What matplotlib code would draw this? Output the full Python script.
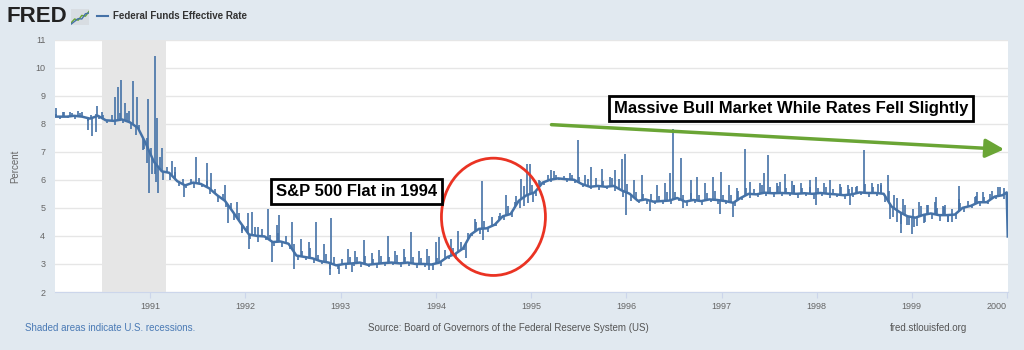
import numpy as np
import pandas as pd
import matplotlib
matplotlib.use('Agg')
import matplotlib.pyplot as plt
import matplotlib.dates as mdates
from matplotlib.patches import Ellipse

plt.rcParams['font.family'] = ['Liberation Sans', 'DejaVu Sans']

# Monthly level of the federal funds rate (mid-month)
rate_1990 = [8.25, 8.25, 8.28, 8.25, 8.18, 8.28, 8.12, 8.10, 8.15, 8.05, 7.85, 7.30]
rate_1991 = [6.65, 6.30, 6.25, 5.95, 5.80, 5.90, 5.85, 5.70, 5.45, 5.25, 4.85, 4.45]
rate_1992 = [4.05, 4.00, 3.98, 3.78, 3.80, 3.72, 3.30, 3.25, 3.20, 3.10, 3.05, 2.95]
rate_1993 = [3.00, 3.02, 3.05, 2.97, 3.00, 3.03, 3.05, 3.02, 3.05, 3.00, 3.00, 2.98]
rate_1994 = [3.05, 3.25, 3.35, 3.55, 4.05, 4.25, 4.27, 4.40, 4.70, 4.78, 5.25, 5.45]
rate_1995 = [5.55, 5.90, 6.00, 6.05, 6.02, 6.00, 5.85, 5.75, 5.78, 5.75, 5.78, 5.62]
rate_1996 = [5.50, 5.25, 5.30, 5.22, 5.24, 5.26, 5.35, 5.22, 5.28, 5.24, 5.30, 5.28]
rate_1997 = [5.24, 5.18, 5.35, 5.50, 5.48, 5.54, 5.52, 5.53, 5.52, 5.50, 5.52, 5.50]
rate_1998 = [5.53, 5.50, 5.48, 5.45, 5.48, 5.55, 5.53, 5.53, 5.50, 5.05, 4.85, 4.70]
rate_1999 = [4.65, 4.75, 4.80, 4.74, 4.74, 4.76, 5.00, 5.07, 5.20, 5.20, 5.40, 5.45]

# first and last days of the series
edge_dates = ['1990-01-02', '1999-12-31', '2000-01-04']
edge_vals = [8.25, 5.55, 3.98]

# small day-to-day wiggle around the monthly level (two readings a month)
wiggle_1990 = [0.10, -0.10, 0.15, -0.05, 0.10, -0.10, 0.12, 0.05, -0.10, 0.10, 0.08, -0.10,
               0.15, -0.10, 0.20, -0.15, 0.25, -0.10, 0.30, -0.20, -0.30, 0.20, -0.40, 0.30]
wiggle_1991 = [0.30, -0.40, 0.40, -0.30, 0.20, -0.20, 0.25, -0.15, 0.20, -0.10, 0.15, -0.20,
               0.20, -0.10, 0.20, -0.15, 0.15, -0.20, 0.20, -0.15, 0.20, -0.20, 0.25, -0.20]
wiggle_1992 = [0.20, -0.15, 0.30, -0.20, 0.25, -0.10, 0.20, -0.15, 0.30, -0.20, 0.25, -0.10,
               0.30, -0.15, 0.20, -0.10, 0.35, -0.15, 0.20, -0.10, 0.30, -0.20, 0.25, -0.15]
wiggle_1993 = [0.20, -0.20, 0.25, -0.10, 0.20, -0.15, 0.30, -0.10, 0.20, -0.15, 0.25, -0.10,
               0.20, -0.10, 0.30, -0.15, 0.20, -0.10, 0.25, -0.15, 0.20, -0.10, 0.30, -0.20]
wiggle_1994 = [0.20, -0.15, 0.30, -0.10, 0.25, -0.20, 0.30, -0.15, 0.20, -0.10, 0.30, -0.20,
               0.25, -0.15, 0.30, -0.10, 0.20, -0.15, 0.30, -0.20, 0.30, -0.30, 0.40, -0.30]
wiggle_1995 = [0.30, -0.20, 0.15, -0.10, 0.20, -0.10, 0.15, -0.05, 0.12, -0.10, 0.15, -0.10,
               0.20, -0.10, 0.25, -0.10, 0.30, -0.15, 0.20, -0.10, 0.30, -0.15, 0.35, -0.20]
wiggle_1996 = [0.30, -0.20, 0.25, -0.10, 0.20, -0.15, 0.25, -0.10, 0.20, -0.10, 0.30, -0.15,
               0.25, -0.10, 0.20, -0.15, 0.25, -0.10, 0.20, -0.15, 0.25, -0.10, 0.30, -0.15]
wiggle_1997 = [0.20, -0.10, 0.25, -0.15, 0.30, -0.10, 0.25, -0.15, 0.20, -0.10, 0.30, -0.10,
               0.20, -0.15, 0.25, -0.10, 0.20, -0.10, 0.30, -0.15, 0.20, -0.10, 0.25, -0.20]
wiggle_1998 = [0.20, -0.10, 0.25, -0.15, 0.20, -0.10, 0.30, -0.15, 0.20, -0.10, 0.25, -0.10,
               0.30, -0.15, 0.20, -0.10, 0.30, -0.20, 0.40, -0.35, 0.45, -0.40, 0.35, -0.30]
wiggle_1999 = [0.30, -0.30, 0.35, -0.25, 0.30, -0.20, 0.25, -0.20, 0.30, -0.25, 0.20, -0.20,
               0.25, -0.15, 0.20, -0.10, 0.25, -0.15, 0.20, -0.10, 0.25, -0.10, 0.30, -0.15]

# larger daily spikes and dips
spike_dates = [
    '1990-01-03', '1990-02-01', '1990-03-01', '1990-03-30', '1990-04-16', '1990-05-08',
    '1990-05-22', '1990-06-06', '1990-06-10', '1990-07-02', '1990-08-18', '1990-08-29',
    '1990-09-13', '1990-09-27', '1990-10-10', '1990-10-27', '1990-11-10', '1990-11-28',
    '1990-12-10', '1990-12-19', '1990-12-24', '1990-12-28', '1991-01-08', '1991-01-19',
    '1991-01-23', '1991-01-26', '1991-02-02', '1991-02-17', '1991-03-25', '1991-04-08',
    '1991-05-10', '1991-06-25', '1991-08-07', '1991-08-22', '1991-10-16', '1991-10-27',
    '1991-11-29', '1991-12-20',
    '1992-01-12', '1992-01-15', '1992-01-26', '1992-02-20', '1992-03-28', '1992-04-12',
    '1992-04-30', '1992-05-10', '1992-06-28', '1992-07-05', '1992-07-31', '1992-08-31',
    '1992-09-27', '1992-10-30', '1992-11-22', '1992-11-25', '1992-12-25',
    '1993-01-29', '1993-02-12', '1993-02-26', '1993-04-01', '1993-04-30', '1993-05-28',
    '1993-06-30', '1993-07-30', '1993-08-31', '1993-09-27', '1993-10-29', '1993-11-30',
    '1993-12-06', '1993-12-31',
    '1994-01-15', '1994-02-28', '1994-03-28', '1994-04-25', '1994-06-02', '1994-06-28',
    '1994-07-01', '1994-08-31', '1994-09-27', '1994-10-31', '1994-11-25', '1994-12-05',
    '1994-12-16', '1994-12-30',
    '1995-01-10', '1995-01-31', '1995-03-20', '1995-03-31', '1995-05-31', '1995-06-30',
    '1995-07-27', '1995-08-20', '1995-09-29', '1995-10-31', '1995-11-20', '1995-12-15',
    '1995-12-29',
    '1996-01-02', '1996-01-31', '1996-02-29', '1996-04-01', '1996-04-30', '1996-05-31',
    '1996-06-17', '1996-06-28', '1996-07-31', '1996-08-08', '1996-09-05', '1996-09-30',
    '1996-10-31', '1996-12-01', '1996-12-27', '1996-12-31',
    '1997-01-31', '1997-02-14', '1997-02-28', '1997-03-31', '1997-04-20', '1997-05-30',
    '1997-06-12', '1997-06-30', '1997-07-31', '1997-08-15', '1997-09-01', '1997-09-30',
    '1997-10-05', '1997-10-31', '1997-12-05', '1997-12-28', '1997-12-31',
    '1998-01-30', '1998-02-20', '1998-03-31', '1998-04-30', '1998-05-08', '1998-05-15',
    '1998-06-01', '1998-06-30', '1998-07-31', '1998-08-25', '1998-09-05', '1998-09-30',
    '1998-10-08', '1998-10-25', '1998-11-05', '1998-11-20', '1998-11-30', '1998-12-15',
    '1998-12-31',
    '1999-01-08', '1999-01-29', '1999-02-15', '1999-03-01', '1999-03-31', '1999-04-05',
    '1999-04-30', '1999-05-08', '1999-05-20', '1999-06-06', '1999-06-30', '1999-07-01',
    '1999-08-31', '1999-09-09', '1999-10-01', '1999-10-29', '1999-11-28', '1999-12-20',
]
spike_vals = [
    8.55, 8.42, 8.42, 8.45, 8.40, 7.77,
    7.55, 7.70, 8.63, 8.42, 8.96, 9.30,
    9.55, 8.73, 8.45, 9.53, 8.95, 7.65,
    7.10, 6.60, 8.88, 5.53, 6.20, 10.41,
    5.92, 8.20, 5.53, 7.12, 6.67, 6.45,
    5.40, 6.81, 6.59, 6.23, 5.80, 4.46,
    5.20, 4.10,
    4.82, 3.54, 4.85, 4.30, 4.97, 3.06,
    4.40, 4.73, 4.49, 2.83, 3.90, 3.80,
    4.49, 3.70, 2.62, 4.64, 2.65,
    3.55, 2.70, 3.45, 3.84, 3.40, 3.50,
    4.00, 3.45, 3.55, 4.14, 3.45, 3.55,
    2.77, 3.80,
    3.96, 3.90, 4.17, 3.20, 4.61, 5.97,
    3.84, 4.70, 5.45, 5.20, 6.04, 5.05,
    6.58, 6.58,
    5.20, 6.00, 6.34, 6.30, 6.25, 7.41,
    6.16, 6.46, 6.40, 6.10, 6.35, 6.75,
    6.93,
    4.73, 6.00, 6.16, 4.90, 5.80, 5.90,
    6.24, 7.80, 6.76, 4.98, 6.00, 6.10,
    5.90, 6.10, 4.79, 6.28,
    5.80, 4.67, 5.70, 7.08, 5.92, 5.90,
    6.24, 6.88, 5.90, 5.92, 6.22, 5.95,
    5.80, 5.90, 5.98, 5.09, 6.10,
    5.90, 5.98, 5.85, 5.80, 5.09, 5.75,
    5.75, 7.05, 5.90, 5.85, 5.90, 6.16,
    4.61, 5.45, 4.50, 4.10, 5.30, 4.40,
    4.08,
    4.30, 5.20, 4.45, 5.10, 5.20, 5.39,
    5.05, 5.10, 4.50, 4.49, 5.30, 5.77,
    5.40, 5.56, 5.55, 5.50, 5.74, 5.72,
]

recession = ('1990-07-01', '1991-03-01')
years = [str(y) for y in range(1991, 2001)]

monthly_vals = (rate_1990 + rate_1991 + rate_1992 + rate_1993 + rate_1994 +
                rate_1995 + rate_1996 + rate_1997 + rate_1998 + rate_1999)
monthly_dates = pd.date_range('1990-01-01', periods=len(monthly_vals), freq='MS') + pd.Timedelta(days=14)
wiggle = (wiggle_1990 + wiggle_1991 + wiggle_1992 + wiggle_1993 + wiggle_1994 +
          wiggle_1995 + wiggle_1996 + wiggle_1997 + wiggle_1998 + wiggle_1999)
wiggle_dates = pd.date_range('1990-01-01', periods=len(wiggle), freq='SMS') + pd.Timedelta(days=5)

rate = pd.concat([pd.Series(monthly_vals, index=monthly_dates),
                  pd.Series(edge_vals, index=pd.to_datetime(edge_dates))]).sort_index()

# level the line sits at on each spike / wiggle day
rate_x = mdates.date2num(rate.index)
spike_x = mdates.date2num(pd.to_datetime(spike_dates))
spike_base = np.interp(spike_x, rate_x, rate.values)
wiggle_x = mdates.date2num(wiggle_dates)
wiggle_base = np.interp(wiggle_x, rate_x, rate.values)

# Figure
bg = '#e1e9f0'
line_col = '#4572a7'
fig = plt.figure(figsize=(10.24, 3.5), dpi=100, facecolor=bg)
ax = fig.add_axes([55/1024, 58/350, 953/1024, 252.5/350])
ax.set_facecolor('white')

ax.axvspan(pd.Timestamp(recession[0]), pd.Timestamp(recession[1]), color='#e6e6e6', lw=0, zorder=1)
ax.plot(rate.index, rate.values, color=line_col, lw=1.8, zorder=3)
ax.vlines(wiggle_x, wiggle_base, wiggle_base + np.array(wiggle), color=line_col, lw=1.2, zorder=3)
ax.vlines(spike_x, spike_base, spike_vals, color=line_col, lw=1.2, zorder=3)

ax.set_ylim(2, 11)
ax.set_yticks(range(2, 12))
ax.set_xlim(pd.Timestamp('1990-01-01'), pd.Timestamp('2000-01-05'))
ax.set_xticks(pd.to_datetime([y + '-01-01' for y in years]))
ax.set_xticklabels(years)
ax.get_xticklabels()[-1].set_horizontalalignment('right')

ax.grid(axis='y', color='#e6e6e6', lw=1)
ax.set_axisbelow(True)
for s in ['top', 'right', 'left']:
    ax.spines[s].set_visible(False)
ax.spines['bottom'].set_color('#ccd6eb')
ax.tick_params(axis='y', length=0, pad=7, labelsize=6.5, labelcolor='#666666')
ax.tick_params(axis='x', length=4, color='#ccd6eb', pad=3, labelsize=6.5, labelcolor='#666666')

# Annotations
box = dict(boxstyle='square,pad=0.3', fc='white', ec='black', lw=2)
ax.text(pd.Timestamp('1993-03-01'), 5.59, 'S&P 500 Flat in 1994', ha='center', va='center',
        fontsize=12, fontweight='bold', bbox=box, zorder=6)
ax.text(pd.Timestamp('1997-09-24'), 8.55, 'Massive Bull Market While Rates Fell Slightly',
        ha='center', va='center', fontsize=12, fontweight='bold', bbox=box, zorder=6)
ax.annotate('', xy=(pd.Timestamp('2000-01-01'), 7.08), xytext=(pd.Timestamp('1995-03-10'), 7.97),
            arrowprops=dict(arrowstyle='-|>,head_length=0.75,head_width=0.38', mutation_scale=15,
                            color='#6aa535', lw=2.5),
            zorder=6)
circle = Ellipse((mdates.date2num(pd.Timestamp('1994-08-10')), 4.68), width=399, height=4.18,
                 fill=False, ec='#ea3323', lw=2, zorder=5)
ax.add_patch(circle)

# Header
fig.text(7/1024, 1 - 17/350, 'FRED', fontsize=16, fontweight='heavy', color='#222222', va='center')
icon = fig.add_axes([71/1024, 1 - 25/350, 18/1024, 16/350])
icon.add_patch(plt.Rectangle((0, 0), 5, 4, color='#d8dde2', zorder=0))
icon.plot([0, 1, 2, 3, 4, 5], [0.5, 1.5, 1.2, 2.4, 2.2, 3.4], color='#6aa535', lw=1)
icon.plot([0, 1, 2, 3, 4, 5], [0.2, 0.9, 1.6, 1.5, 2.8, 3.0], color=line_col, lw=1)
icon.set_xlim(0, 5)
icon.set_ylim(0, 4)
icon.axis('off')
fig.add_artist(plt.Line2D([97/1024, 108/1024], [1 - 16/350, 1 - 16/350], color=line_col, lw=1.5))
fig.text(113/1024, 1 - 16/350, 'Federal Funds Effective Rate', fontsize=7, fontweight='bold',
         color='#333333', va='center')

fig.text(15/1024, 1 - 166/350, 'Percent', rotation=90, fontsize=7, color='#666666',
         ha='center', va='center')

# Footer
fig.text(25/1024, 1 - 328/350, 'Shaded areas indicate U.S. recessions.', fontsize=7,
         color='#4a7ab5', va='center')
fig.text(508/1024, 1 - 328/350, 'Source: Board of Governors of the Federal Reserve System (US)',
         fontsize=7, color='#555555', ha='center', va='center')
fig.text(967/1024, 1 - 328/350, 'fred.stlouisfed.org', fontsize=7, color='#555555',
         ha='right', va='center')

fig.savefig('out.png', dpi=100, facecolor=bg)
